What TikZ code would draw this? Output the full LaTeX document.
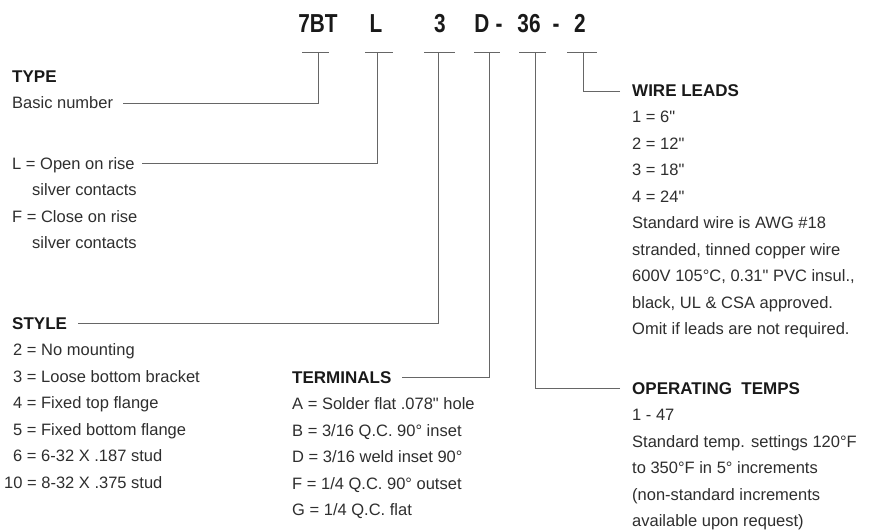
\documentclass[tikz,border=0pt]{standalone}
\usepackage{fontspec}
\setmainfont{Liberation Sans}[Ligatures=TeXOff]
\usepackage{graphicx}
\begin{document}
\begin{tikzpicture}[x=1pt,y=-1pt,
  body/.style={anchor=base west, inner sep=0pt, font=\fontsize{16.5}{18}\selectfont, text=black!82},
  head/.style={anchor=base west, inner sep=0pt, font=\fontsize{17}{19}\selectfont\bfseries, text=black!90},
  code/.style={anchor=base, inner sep=0pt, font=\fontsize{26}{28}\selectfont\bfseries, text=black!90},
  lead/.style={draw=black!60, line width=0.7pt}]
\useasboundingbox (0,0) rectangle (870,531);

% ---- part number ----
\node[code] (k7)  at (318,32) {\scalebox{0.8}[1]{7BT}};
\node[code] (kL)  at (376,32) {\scalebox{0.8}[1]{L}};
\node[code] (k3)  at (440,32) {\scalebox{0.8}[1]{3}};
\node[code] (kD)  at (482,32) {\scalebox{0.8}[1]{D}};
\node[code] (kd1) at (499,32) {\scalebox{0.8}[1]{-}};
\node[code] (k36) at (529,32) {\scalebox{0.8}[1]{36}};
\node[code] (kd2) at (556,32) {\scalebox{0.8}[1]{-}};
\node[code] (k2)  at (580,32) {\scalebox{0.8}[1]{2}};

% ---- ticks under the part number ----
\foreach \n/\a/\b/\m in {t7/302/329/318, tL/365/393/377, t3/424/455/438, tD/474/500/489, t36/519/546/535, t2/567/597/583}{
  \coordinate (\n a) at (\a,52);
  \coordinate (\n b) at (\b,52);
  \coordinate (\n) at (\m,52);
  \draw[lead] (\n a) -- (\n b);
}

% ---- TYPE ----
\node[head] (type) at (12,82) {TYPE};
\node[body] (basic) at (12,108) {Basic number};
\node[body] (lopen) at (12,169) {L = Open on rise};
\node[body] (sil1) at (32,195.5) {silver contacts};
\node[body] (fclose) at (12,222) {F = Close on rise};
\node[body] (sil2) at (32,248.5) {silver contacts};

\coordinate (eB) at (123,103);
\coordinate (eL) at (142,163);
\draw[lead] (eB) -| (t7);
\draw[lead] (eL) -| (tL);

% ---- STYLE ----
\node[head] (style) at (12,329) {STYLE};
\node[body] (s2)  at (13,355.5) {2 = No mounting};
\node[body] (s3)  at (13,382)   {3 = Loose bottom bracket};
\node[body] (s4)  at (13,408.5) {4 = Fixed top flange};
\node[body] (s5)  at (13,435)   {5 = Fixed bottom flange};
\node[body] (s6)  at (13,461.5) {6 = 6-32 X .187 stud};
\node[body] (s10) at (4,488)    {10 = 8-32 X .375 stud};
\coordinate (eS) at (78,323);
\draw[lead] (eS) -| (t3);

% ---- TERMINALS ----
\node[head] (term) at (292,383) {TERMINALS};
\node[body] (ta) at (292,409.5) {A = Solder flat .078" hole};
\node[body] (tb) at (292,436)   {B = 3/16 Q.C. 90° inset};
\node[body] (td) at (292,462.5) {D = 3/16 weld inset 90°};
\node[body] (tf) at (292,489)   {F = 1/4 Q.C. 90° outset};
\node[body] (tg) at (292,515.5) {G = 1/4 Q.C. flat};
\coordinate (eT) at (402,377);
\draw[lead] (eT) -| (tD);

% ---- WIRE LEADS ----
\node[head] (wire) at (632,96) {WIRE LEADS};
\node[body] (w1) at (632,122.5) {1 = 6"};
\node[body] (w2) at (632,149)   {2 = 12"};
\node[body] (w3) at (632,175.5) {3 = 18"};
\node[body] (w4) at (632,202)   {4 = 24"};
\node[body] (w5) at (632,228.5) {Standard wire is AWG \#18};
\node[body] (w6) at (632,255)   {stranded, tinned copper wire};
\node[body] (w7) at (632,281.5) {600V 105°C, 0.31" PVC insul.,};
\node[body] (w8) at (632,308)   {black, UL \& CSA approved.};
\node[body] (w9) at (632,334.5) {Omit if leads are not required.};
\coordinate (eW) at (620,91);
\draw[lead] (eW) -| (t2);

% ---- OPERATING TEMPS ----
\node[head] (oper) at (632,394) {OPERATING\ \ TEMPS};
\node[body] (o1) at (632,420.5) {1 - 47};
\node[body] (o2) at (632,447)   {Standard temp. settings 120°F};
\node[body] (o3) at (632,473.5) {to 350°F in 5° increments};
\node[body] (o4) at (632,500)   {(non-standard increments};
\node[body] (o5) at (632,526.5) {available upon request)};
\coordinate (eO) at (620,388);
\draw[lead] (eO) -| (t36);
\end{tikzpicture}
\end{document}
